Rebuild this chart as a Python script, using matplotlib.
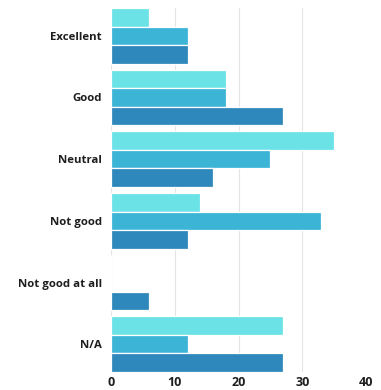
import numpy as np
import matplotlib
matplotlib.use("Agg")
import matplotlib.pyplot as plt

categories = ["Excellent", "Good", "Neutral", "Not good", "Not good at all", "N/A"]
series_1 = [6, 18, 35, 14, 0, 27]
series_2 = [12, 18, 25, 33, 0, 12]
series_3 = [12, 27, 16, 12, 6, 27]
x_ticks = [0, 10, 20, 30, 40]

colors = ["#6ae2e6", "#3cb4d6", "#2e88bb"]

plt.rcParams["font.family"] = ["Open Sans", "DejaVu Sans"]

fig = plt.figure(figsize=(3.81, 3.90), dpi=100)
ax = fig.add_axes([111 / 381, 1 - 372 / 390, (366 - 111) / 381, (372 - 8) / 390])

y = np.arange(len(categories))
h = 0.3
for k, vals in enumerate([series_1, series_2, series_3]):
    ax.barh(y + (k - 1) * h, vals, height=h, color=colors[k],
            edgecolor="white", linewidth=0.9, zorder=3)

ax.set_xlim(0, 40)
ax.set_ylim(len(categories) - 0.55, -0.45)
ax.set_yticks(y)
ax.set_yticklabels(categories, fontsize=8.2, fontweight="bold", color="#1e1e1e")
ax.set_xticks(x_ticks)
ax.set_xticklabels([str(t) for t in x_ticks], fontsize=9, fontweight="bold", color="#1e1e1e")
ax.tick_params(axis="both", length=0)
ax.tick_params(axis="y", pad=6.5)
ax.tick_params(axis="x", pad=3)

ax.grid(axis="x", color="#e4e4e4", linewidth=0.8, zorder=0)
for s in ax.spines.values():
    s.set_visible(False)

fig.savefig("out.png", dpi=100)
